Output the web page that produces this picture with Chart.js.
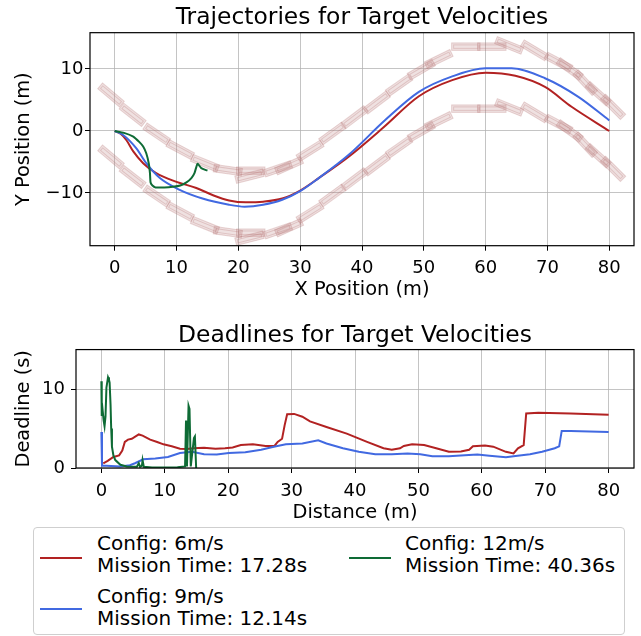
<!DOCTYPE html>
<html lang="en">
<head>
<meta charset="UTF-8" />
<title>Trajectories and Deadlines for Target Velocities</title>
<script src="https://cdn.jsdelivr.net/npm/chart.js"></script>
<style>
  body { margin: 0; background: #fff; font-family: "DejaVu Sans", sans-serif; }
  #page { position: relative; width: 641px; height: 636px; overflow: hidden; }
  canvas { position: absolute; left: 0; }
  #trajChart { top: 0; }
  #deadlineChart { top: 310px; }
  #legend {
    position: absolute; left: 33px; top: 527px; width: 592px; height: 108px;
    box-sizing: border-box; border: 1px solid #cfcfcf; border-radius: 4px; background: #fff;
  }
  .handle { position: absolute; width: 42px; height: 2px; }
  .ltext { position: absolute; font-size: 20px; line-height: 22px; color: #000; white-space: nowrap; }
</style>
</head>
<body>
<div id="page">
  <canvas id="trajChart" width="641" height="310"></canvas>
  <canvas id="deadlineChart" width="641" height="217"></canvas>
  <div id="legend"></div>
</div>

<script>
// ---- series info
const configLabels = ["Config: 6m/s", "Config: 9m/s", "Config: 12m/s"];
const missionTimes = ["Mission Time: 17.28s", "Mission Time: 12.14s", "Mission Time: 40.36s"];
const seriesColors = ["#b22222", "#4169e1", "#0e6b35"];

// ---- top plot: trajectories (x, y in metres)
const traj6X = [0, 1.0, 1.9, 3.0, 4.6, 6.7, 10, 13.2, 16, 18.5, 21.2, 24, 27.1, 30, 33, 37.9, 43.5, 49.2, 54.6, 60, 64.8, 69.6, 73.9, 80];
const traj6Y = [0, -0.5, -1.5, -3.3, -5.2, -6.8, -8.2, -9.2, -10.4, -11.2, -11.5, -11.4, -10.9, -9.6, -7.6, -4.1, 0.6, 5.6, 8.2, 9.4, 8.9, 7.1, 3.9, 0];

const traj9X = [0, 1.3, 3.5, 5.1, 7.3, 10.5, 14.2, 18.5, 21, 24, 27.1, 30, 33, 37.9, 43.8, 49.2, 54.6, 60, 64.2, 69.6, 75, 80];
const traj9Y = [0, -0.6, -2.8, -5.2, -7.6, -9.5, -10.9, -11.9, -12.2, -11.9, -11.1, -9.7, -7.6, -3.8, 1.8, 6.3, 8.8, 10.1, 10.1, 8.5, 5.5, 1.7];

const traj12X = [0, 1.5, 3.0, 4.0, 4.6, 5.1, 5.5, 5.7, 5.8, 6.1, 6.6, 8.0, 9.4, 10.6, 11.6, 12.4, 12.9, 13.4, 14.0, 15.0];
const traj12Y = [0, -0.3, -0.9, -1.8, -2.5, -3.6, -5.2, -6.8, -8.3, -8.8, -9.1, -9.1, -9.0, -8.8, -8.3, -7.6, -6.8, -5.3, -6.0, -6.4];

// ---- lane boxes: centre x, centre y, heading (deg)
const upperBoxX = [-0.6, 2.9, 6.8, 10.6, 14.6, 18.3, 22.0, 21.8, 26.4, 28.2, 31.6, 35.2, 38.8, 42.4, 46.0, 49.6, 52.4, 56.8, 61.0, 63.8, 67.9, 71.8, 73.6, 76.1, 78.2, 80.6];
const upperBoxY = [5.8, 2.6, -0.5, -3.0, -5.2, -6.3, -6.4, -7.3, -6.1, -5.6, -3.2, -0.4, 2.2, 4.6, 7.4, 9.9, 11.6, 13.6, 13.6, 13.8, 13.0, 11.1, 10.0, 7.8, 6.0, 3.9];
const upperBoxA = [-40, -38, -34, -28, -22, -8, 0, 14, 19, 24, 32, 36, 37, 37, 35, 30, 26, 0, 0, -22, -31, -28, -36, -47, -42, -45];

const lowerBoxX = [-0.6, 2.9, 6.8, 10.6, 14.6, 18.3, 22.0, 21.8, 26.4, 28.2, 31.6, 35.2, 38.8, 42.4, 46.0, 49.6, 52.4, 56.8, 61.0, 63.8, 67.9, 71.8, 73.6, 76.1, 78.2, 80.6];
const lowerBoxY = [-4.2, -7.4, -10.5, -13.0, -15.2, -16.3, -16.4, -17.3, -16.1, -15.6, -13.2, -10.4, -7.8, -5.4, -2.6, -0.1, 1.6, 3.6, 3.6, 3.8, 3.0, 1.1, 0.0, -2.2, -4.0, -6.1];
const lowerBoxA = [-40, -38, -34, -28, -22, -8, 0, 14, 19, 24, 32, 36, 37, 37, 35, 30, 26, 0, 0, -22, -31, -28, -36, -47, -42, -45];

// ---- bottom plot: deadlines vs distance
const dist6 = [0.3, 1.0, 1.9, 2.8, 3.3, 3.7, 4.2, 4.8, 5.4, 5.9, 6.5, 7.7, 8.8, 9.8, 11.1, 12.4, 13.5, 14.5, 16.2, 18.0, 19.5, 20.7, 22.0, 23.9, 25.9, 27.3, 27.8, 28.5, 28.9, 29.3, 30.4, 31.7, 32.9, 35.5, 38.7, 41.9, 44.5, 45.8, 47.1, 47.7, 49.0, 50.9, 52.8, 54.8, 56.7, 58.0, 58.6, 60.5, 61.8, 63.8, 65.0, 65.7, 66.6, 67.0, 68.9, 74.0, 80.0];
const deadline6 = [0.6, 0.9, 1.4, 1.6, 2.2, 3.3, 3.6, 3.7, 4.0, 4.25, 4.1, 3.6, 3.3, 3.0, 2.75, 2.45, 2.4, 2.5, 2.55, 2.45, 2.5, 2.6, 2.9, 3.0, 2.8, 2.8, 3.3, 3.7, 5.4, 6.8, 6.85, 6.5, 5.9, 5.2, 4.35, 3.3, 2.5, 2.3, 2.5, 2.8, 3.0, 2.9, 2.5, 2.05, 2.1, 2.3, 2.75, 2.85, 2.7, 2.05, 1.85, 2.5, 2.9, 6.9, 7.0, 6.9, 6.75];

const dist9 = [0.0, 0.1, 0.8, 3.0, 4.5, 5.3, 6.6, 8.5, 10.5, 12.4, 14.3, 16.2, 18.2, 20.1, 22.7, 25.2, 27.2, 29.1, 31.7, 34.2, 35.5, 38.1, 40.6, 43.2, 45.8, 48.3, 50.3, 52.2, 54.8, 57.3, 59.3, 61.2, 63.8, 65.0, 67.6, 69.5, 71.5, 72.2, 72.6, 74.0, 80.0];
const deadline9 = [4.55, 0.3, 0.3, 0.2, 0.35, 0.6, 1.1, 1.2, 1.4, 1.9, 2.05, 1.75, 1.7, 1.9, 2.0, 2.3, 2.7, 3.0, 3.1, 3.5, 3.1, 2.5, 2.05, 1.75, 1.75, 1.85, 1.75, 1.5, 1.5, 1.6, 1.7, 1.55, 1.35, 1.5, 1.75, 2.05, 2.5, 2.75, 4.7, 4.7, 4.55];

const dist12 = [0, 0.06, 0.2, 0.36, 0.5, 0.65, 0.8, 1.05, 1.2, 1.3, 1.45, 1.55, 1.67, 1.9, 2.2, 3.0, 4.0, 5.6, 5.9, 6.1, 6.4, 6.5, 6.7, 8.0, 10.0, 12.0, 13.2, 13.35, 13.5, 13.75, 13.9, 14.1, 14.6, 14.75, 14.95];
const deadline12 = [11.0, 6.6, 7.3, 6.0, 5.3, 6.5, 10.2, 11.5, 11.2, 10.8, 8.0, 5.0, 2.7, 1.6, 1.0, 0.4, 0.2, 0.15, 0.6, 0.15, 0.3, 1.0, 0.15, 0.05, 0.05, 0.1, 0.2, 6.0, 0.2, 7.9, 7.5, 0.2, 3.8, 4.0, 0.0];

// ---- ticks
const trajXTicks = [0, 10, 20, 30, 40, 50, 60, 70, 80];
const trajYTicks = [-10, 0, 10];
const deadlineXTicks = [0, 10, 20, 30, 40, 50, 60, 70, 80];
const deadlineYTicks = [0, 10];

const BOX_LEN = 4.6, BOX_WID = 1.2;

Chart.defaults.font.family = "'DejaVu Sans', sans-serif";
Chart.defaults.color = "#000";

function pts(xs, ys) { return xs.map((x, i) => ({ x: x, y: ys[i] })); }
function fmt(v) { return v < 0 ? "\u2212" + Math.abs(v) : String(v); }

const frame = {
    id: "frame",
    afterDatasetsDraw(chart) {
        const { ctx, chartArea: a } = chart;
        ctx.save();
        ctx.strokeStyle = "#000";
        ctx.lineWidth = 1.2;
        ctx.strokeRect(a.left, a.top, a.right - a.left, a.bottom - a.top);
        ctx.restore();
    }
};

const laneBoxes = {
    id: "laneBoxes",
    beforeDatasetsDraw(chart) {
        const { ctx, chartArea: a, scales } = chart;
        const sx = Math.abs(scales.x.getPixelForValue(1) - scales.x.getPixelForValue(0));
        const sy = Math.abs(scales.y.getPixelForValue(1) - scales.y.getPixelForValue(0));
        const lanes = [[upperBoxX, upperBoxY, upperBoxA], [lowerBoxX, lowerBoxY, lowerBoxA]];
        ctx.save();
        ctx.beginPath();
        ctx.rect(a.left, a.top, a.right - a.left, a.bottom - a.top);
        ctx.clip();
        lanes.forEach(([bx, by, ba]) => {
            bx.forEach((cx, i) => {
                const px = scales.x.getPixelForValue(cx);
                const py = scales.y.getPixelForValue(by[i]);
                const w = BOX_LEN * sx, h = BOX_WID * sy;
                ctx.save();
                ctx.translate(px, py);
                ctx.rotate(-ba[i] * Math.PI / 180);
                ctx.fillStyle = "rgba(180, 120, 120, 0.22)";
                ctx.strokeStyle = "rgba(180, 110, 110, 0.28)";
                ctx.lineWidth = 1;
                ctx.fillRect(-w / 2, -h / 2, w, h);
                ctx.strokeRect(-w / 2, -h / 2, w, h);
                ctx.strokeRect(-w / 2 + 2, -h / 2 + 2, w - 4, h - 4);
                ctx.restore();
            });
        });
        ctx.restore();
    }
};

function lineSet(i, data, extra) {
    return Object.assign({
        label: configLabels[i],
        data: data,
        borderColor: seriesColors[i],
        backgroundColor: seriesColors[i],
        borderWidth: 2,
        pointRadius: 0,
        showLine: true,
        fill: false,
        order: 3 - i
    }, extra || {});
}

function axis(min, max, tickList, title, opts) {
    return {
        type: "linear",
        min: min,
        max: max,
        afterBuildTicks: s => { s.ticks = tickList.map(v => ({ value: v })); },
        afterFit: s => { if (opts.width) s.width = opts.width; if (opts.height) s.height = opts.height; },
        grid: {
            color: "rgba(176,176,176,0.75)",
            lineWidth: 1,
            drawTicks: true,
            tickLength: 5,
            tickColor: "#000",
            tickWidth: 1
        },
        border: { display: false },
        ticks: { font: { size: 18 }, padding: opts.tickPad, callback: fmt, maxRotation: 0 },
        title: { display: true, text: title, font: { size: 19.4 }, padding: opts.titlePad }
    };
}

function plotTitle(text, pad) {
    return {
        display: true,
        fullSize: false,
        text: text,
        font: { size: 23.4, weight: "normal" },
        padding: pad
    };
}

const trajChart = new Chart(document.getElementById("trajChart"), {
    type: "scatter",
    data: {
        datasets: [
            lineSet(0, pts(traj6X, traj6Y), { cubicInterpolationMode: "monotone" }),
            lineSet(1, pts(traj9X, traj9Y), { cubicInterpolationMode: "monotone" }),
            lineSet(2, pts(traj12X, traj12Y), { tension: 0.2 })
        ]
    },
    options: {
        responsive: false,
        animation: false,
        layout: { padding: { left: 0, right: 7, top: 0, bottom: 0 } },
        plugins: {
            legend: { display: false },
            tooltip: { enabled: false },
            title: plotTitle("Trajectories for Target Velocities", { top: 4, bottom: 0.6 })
        },
        scales: {
            x: axis(-4, 84, trajXTicks, "X Position (m)", { height: 64.3, tickPad: 7, titlePad: { top: 0, bottom: 8.3 } }),
            y: axis(-18.5, 15.85, trajYTicks, "Y Position (m)", { width: 90, tickPad: 1.5, titlePad: { top: 12.5, bottom: 0 } })
        }
    },
    plugins: [laneBoxes, frame]
});

const deadlineChart = new Chart(document.getElementById("deadlineChart"), {
    type: "scatter",
    data: {
        datasets: [
            lineSet(0, pts(dist6, deadline6)),
            lineSet(1, pts(dist9, deadline9)),
            lineSet(2, pts(dist12, deadline12))
        ]
    },
    options: {
        responsive: false,
        animation: false,
        layout: { padding: { left: 0, right: 7, top: 0, bottom: 0 } },
        plugins: {
            legend: { display: false },
            tooltip: { enabled: false },
            title: plotTitle("Deadlines for Target Velocities", { top: 11.5, bottom: 0 })
        },
        scales: {
            x: axis(-4, 84, deadlineXTicks, "Distance (m)", { height: 59, tickPad: 7.5, titlePad: { top: 0, bottom: 2.1 } }),
            y: axis(0, 15, deadlineYTicks, "Deadline (s)", { width: 76, tickPad: 6, titlePad: { top: 12.5, bottom: 0 } })
        }
    },
    plugins: [frame]
});

// ---- legend box, built from the chart's datasets (two columns, column-major)
const legendEl = document.getElementById("legend");
const slots = [
    { handleLeft: 6, textLeft: 63, handleTop: 28.5, textTop: 4 },
    { handleLeft: 6, textLeft: 63, handleTop: 80, textTop: 57 },
    { handleLeft: 315, textLeft: 371, handleTop: 28.5, textTop: 4 }
];
deadlineChart.data.datasets.forEach((ds, i) => {
    const s = slots[i];
    const h = document.createElement("div");
    h.className = "handle";
    h.style.left = s.handleLeft + "px";
    h.style.top = s.handleTop + "px";
    h.style.background = ds.borderColor;
    legendEl.appendChild(h);
    const t = document.createElement("div");
    t.className = "ltext";
    t.style.left = s.textLeft + "px";
    t.style.top = s.textTop + "px";
    t.innerHTML = ds.label + "<br>" + missionTimes[i];
    legendEl.appendChild(t);
});
</script>
</body>
</html>
